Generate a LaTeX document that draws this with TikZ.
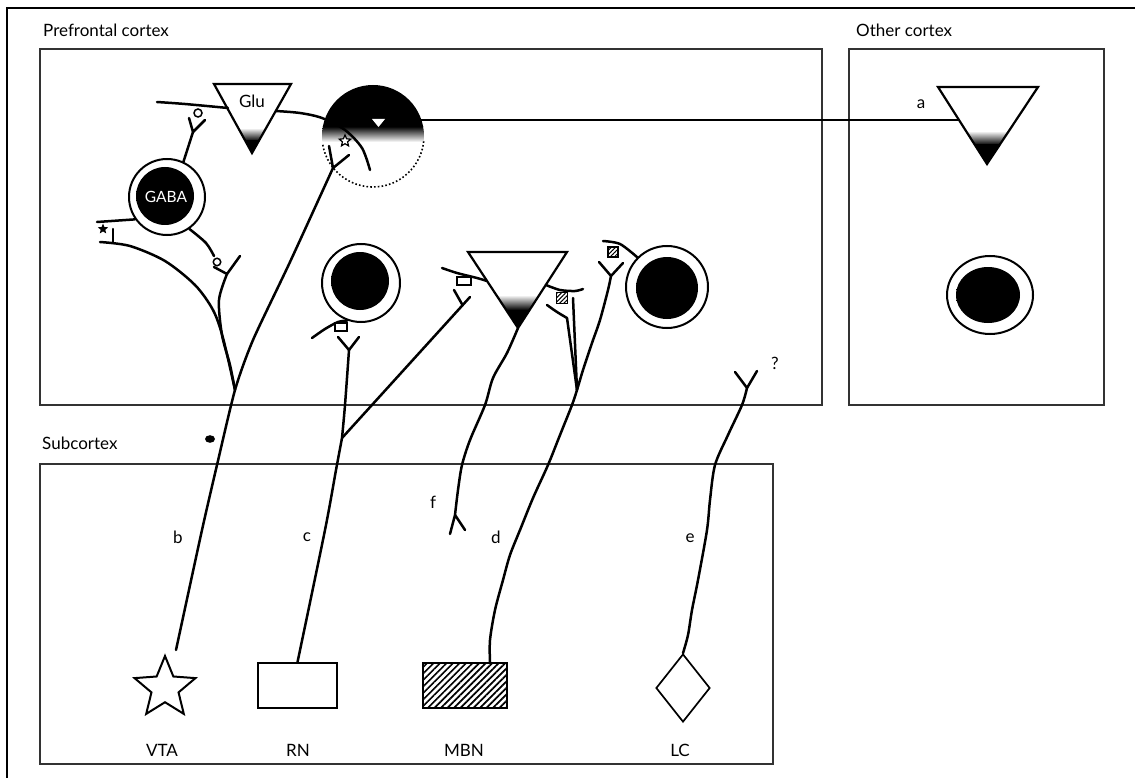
\documentclass[tikz,border=0pt]{standalone}
\usepackage{fontspec}
\setmainfont{Lato}
\usetikzlibrary{shapes.geometric,patterns.meta}

% soft-edged dark nucleus
\pgfdeclareradialshading{softdisk}{\pgfpoint{0bp}{0bp}}{color(0bp)=(black); color(34bp)=(black); color(47bp)=(white); color(50bp)=(white)}

\tikzset{
  neurite/.style={line width=2.5pt, line cap=round, line join=round},
  region/.style={line width=1.2pt, draw=black!80},
  cellring/.style={draw, line width=2pt, fill=white, circle, inner sep=0pt},
  lbl/.style={font=\fontsize{17}{20}\selectfont, inner sep=0pt},
  bouton/.style={draw, line width=1.5pt, fill=white, inner sep=0pt},
  hatchbox/.style={draw, line width=1.5pt, inner sep=0pt,
    pattern={Lines[angle=45,distance=3pt,line width=1pt]}},
  somaedge/.style={line width=2.2pt, line join=miter},
}

\begin{document}
\begin{tikzpicture}[x=1pt,y=-1pt]
\useasboundingbox (0,0) rectangle (1135,778);

% page frame
\draw[line width=1.2pt] (7,778) -- (7,8) -- (1135,8);

% regions
\draw[region] (40,49) rectangle (822,405);
\draw[region] (849,49) rectangle (1104,405);
\draw[region] (40,464) rectangle (773,764);
\node[lbl, anchor=base west] (pfcname) at (43,37) {Prefrontal cortex};
\node[lbl, anchor=base west] (ocname) at (856,37) {Other cortex};
\node[lbl, anchor=base west] (scname) at (42,449) {Subcortex};

% ---------- Glu pyramidal cell ----------
\coordinate (gluA) at (214,84);
\coordinate (gluB) at (291,84);
\coordinate (gluC) at (252,153);
\begin{scope}
  \clip (gluA) -- (gluB) -- (gluC) -- cycle;
  \shade[top color=white, bottom color=black] (200,128) rectangle (300,141);
  \fill (200,140.5) rectangle (300,160);
\end{scope}
\draw[somaedge] (gluA) -- (gluB) -- (gluC) -- cycle;
\node[lbl] (glu) at (252,101) {Glu};

% ---------- half-dark cell with dotted outline ----------
\coordinate (dc) at (373,136);
\begin{scope}
  \clip (dc) circle[radius=51];
  \fill (300,80) rectangle (450,127);
  \shade[top color=black, bottom color=white] (300,126.5) rectangle (450,142);
\end{scope}
\draw[line width=1.6pt, dash pattern=on 1.6pt off 2.2pt] (dc) ++(170:51) arc[start angle=170, end angle=6, radius=51];

% Glu axon
\draw[neurite] plot[smooth] coordinates {(157,102) (185,104) (228,108)};
\draw[neurite] plot[smooth] coordinates {(276,111) (300,113) (322,118) (345,130) (362,148) (370,170)};
\fill[white] (372,119) -- (385,119) -- (378.5,127) -- cycle;

% projection a
\coordinate (aout) at (421,120);
\coordinate (ain) at (959,120);
\draw[neurite, line width=1.9pt] (aout) -- (ain);
\node[lbl] (la) at (921,104) {a};

% VTA terminal (open star) and spine
\node[star, star points=5, star point ratio=2.2, draw, fill=white, line width=1.2pt, minimum size=12pt, inner sep=0pt] (ostar) at (345,141) {};
\coordinate (by) at (333,168);
\draw[neurite] (329,146) -- (by) -- (349,155);

% ---------- GABA interneuron ----------
\node[cellring, minimum size=76pt] (gaba) at (167,197) {};
\shade[shading=softdisk] (165,196) circle[radius=29];
\node[lbl, text=white, font=\fontsize{15.5}{18}\selectfont] (gabat) at (166,197) {GABA};

% upper synapse onto GABA cell
\node[bouton, circle, minimum size=8pt] (gb1) at (198,113) {};
\draw[neurite] (189,118) -- (193,132) -- (205,120);
\draw[neurite] (193,132) -- (gaba.65);

% GABA terminal with black star
\draw[neurite] (97,222) -- (gaba.215);
\node[star, star points=5, star point ratio=2.3, fill, minimum size=11pt, inner sep=0pt] (fstar) at (103,229) {};
\draw[neurite] (113,229) -- (113,242);
\coordinate (merge) at (235,390);
\draw[neurite] plot[smooth] coordinates {(100,242) (130,246) (165,261) (195,285) (213,310) (223,338) (merge)};

% lower GABA synapse
\draw[neurite] plot[smooth] coordinates {(gaba.-55) (206,243) (214,256)};
\node[bouton, circle, minimum size=7.5pt] (gb2) at (217,262) {};
\draw[neurite] (240,256) -- (227,274) -- (214,267);
\draw[neurite] plot[smooth] coordinates {(227,274) (219,300) (222,335) (230,365) (merge)};

% ---------- bottom nuclei ----------
\node[star, star points=5, star point ratio=2.25, draw, line width=2pt, minimum size=64pt, inner sep=0pt] (vta) at (165,688) {};
\node[draw, line width=1.7pt, minimum width=79pt, minimum height=45pt, inner sep=0pt] (rn) at (297.5,685.5) {};
\node[draw, line width=2pt, inner sep=0pt, minimum width=84pt, minimum height=45pt,
      pattern={Lines[angle=45,distance=4.6pt,line width=1.7pt]}] (mbn) at (465,685.5) {};
\node[diamond, draw, line width=1.7pt, minimum width=54pt, minimum height=68pt, inner sep=0pt] (lc) at (683,688) {};
\node[lbl] (vtal) at (162,750) {VTA};
\node[lbl] (rnl) at (298,750) {RN};
\node[lbl] (mbnl) at (464,750) {MBN};
\node[lbl] (lcl) at (680,750) {LC};

% projection b (VTA)
\coordinate (bend) at (176,650);
\draw[neurite] plot[smooth, tension=0.4] coordinates {(by) (290,262) (253,340) (merge) (217,465) (202,530) (bend)};
\node[lbl] (lb) at (178,537) {b};
\fill (210,439) ellipse[x radius=5, y radius=3.8];

% ---------- middle cell with RN input ----------
\node[cellring, minimum size=78pt] (c2) at (361,283) {};
\shade[shading=softdisk] (360,281) circle[radius=29];
\draw[neurite] plot[smooth] coordinates {(312,338) (325,329) (338,322) (c2.-110)};
\node[bouton, minimum width=12pt, minimum height=8pt] (sq1) at (341,327) {};
\draw[neurite] (338,337) -- (349,350) -- (359,337);
\coordinate (cfork) at (342,438);
\draw[neurite] plot[smooth] coordinates {(349,350) (345,405) (cfork)};
\draw[neurite] plot[smooth] coordinates {(cfork) (336,470) (325,530) (rn.north)};
\draw[neurite] (cfork) -- (470,297);
\draw[neurite] (454,290) -- (462.5,305);
\node[lbl] (lc2) at (307,537) {c};

% ---------- middle pyramidal cell ----------
\coordinate (pyA) at (468,252);
\coordinate (pyB) at (567,252);
\coordinate (pyC) at (518,328);
\begin{scope}
  \clip (pyA) -- (pyB) -- (pyC) -- cycle;
  \shade[top color=white, bottom color=black] (460,295) rectangle (570,310);
  \fill (460,309.5) rectangle (570,335);
\end{scope}
\draw[somaedge] (pyA) -- (pyB) -- (pyC) -- cycle;
\node[bouton, minimum width=14pt, minimum height=8pt] (sq2) at (464,281) {};
\draw[neurite] plot[smooth] coordinates {(442,268) (457,273) (477,278) (487,281)};

% f
\draw[neurite] plot[smooth] coordinates {(pyC) (507,353) (493,378) (485,405) (470,440) (462,465) (458,490) (455,515)};
\draw[neurite] (450,534) -- (455,515) -- (465,530);
\node[lbl] (lf) at (433,502) {f};

% hatched synapse right of pyramidal cell
\draw[neurite] plot[smooth] coordinates {(546,285) (560,290) (575,291) (583,289)};
\node[hatchbox, minimum size=11pt] (hs1) at (562,298) {};
\coordinate (dmerge) at (577,390);
\draw[neurite] plot[smooth] coordinates {(547,305) (557,312) (567,318)};
\draw[neurite] (567,318) -- (dmerge);
\draw[neurite] (573,298) -- (dmerge);

% ---------- right cell with MBN input ----------
\node[cellring, minimum size=82pt] (c3) at (667,287) {};
\shade[shading=softdisk] (667,288) circle[radius=31];
\draw[neurite] plot[smooth] coordinates {(603,241) (620,244) (c3.135)};
\node[hatchbox, minimum size=10pt] (hs2) at (613,252) {};
\draw[neurite] (599,262) -- (611,276) -- (623,263);
\draw[neurite] plot[smooth] coordinates {(611,276) (608,290) (600,320) (592,343) (583,370) (dmerge) (572,405) (560,435) (548,465) (533,498) (520,530) (510,555) (503,580) (495,610) (490,640) (mbn.north east -| 490,0)};
\node[lbl] (ld) at (496,537) {d};

% ---------- LC projection ----------
\draw[neurite] (735,372) -- (747,388) -- (757,371);
\draw[neurite] plot[smooth] coordinates {(747,388) (742,405) (728,435) (715,465) (710,500) (707,530) (698,580) (692,610) (688,635) (lc.north)};
\node[lbl] (lq) at (775,363) {?};
\node[lbl] (le) at (690,538) {e};

% ---------- other cortex ----------
\coordinate (ocA) at (938,87);
\coordinate (ocB) at (1038,87);
\coordinate (ocC) at (987,164);
\begin{scope}
  \clip (ocA) -- (ocB) -- (ocC) -- cycle;
  \shade[top color=white, bottom color=black] (930,131) rectangle (1040,145);
  \fill (930,144.5) rectangle (1040,170);
\end{scope}
\draw[somaedge] (ocA) -- (ocB) -- (ocC) -- cycle;
\draw[line width=2pt, fill=white] (990,295) ellipse[x radius=43, y radius=39];
\shade[shading=softdisk] (988,295) ellipse[x radius=32, y radius=28];

\end{tikzpicture}
\end{document}
